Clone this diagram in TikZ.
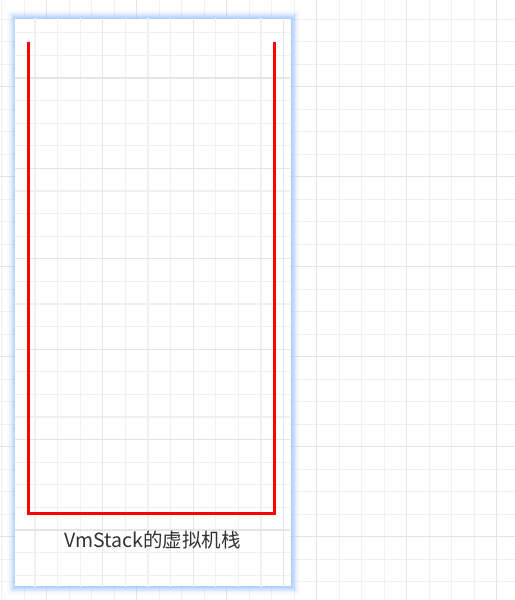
\documentclass[tikz,border=0pt]{standalone}
\usepackage{fontspec}
\newfontfamily\cjkfont{Noto Sans CJK SC}
\begin{document}
\begin{tikzpicture}[x=1bp,y=-1bp,
  gridminor/.style={draw=black!6,line width=1.3bp},
  gridmajor/.style={draw=black!10,line width=1.3bp},
  panelbox/.style={draw=none,fill=white,minimum width=275bp,minimum height=567bp,inner sep=0pt},
  redbracket/.style={draw=red,line width=3bp,line join=miter},
  caption/.style={font=\cjkfont\fontsize{19.5bp}{22bp}\selectfont,text=black!80,inner sep=0pt,anchor=base}]
\useasboundingbox (0,0) rectangle (515,600);
\fill[white] (0,0) rectangle (515,600);
% outer canvas grid
\foreach \k in {0,...,22} {\draw[gridminor] ({1.7+22.5*\k},0) -- ({1.7+22.5*\k},600);}
\foreach \k in {0,...,27} {\draw[gridminor] (0,{-3.3+22.5*\k}) -- (515,{-3.3+22.5*\k});}
\foreach \k in {0,...,5} {\draw[gridmajor] ({46.7+90*\k},0) -- ({46.7+90*\k},600);}
\foreach \k in {0,...,6} {\draw[gridmajor] (0,{-3.3+90*\k}) -- (515,{-3.3+90*\k});}
% glow
\foreach \i/\o in {1/0.7,2/0.6,3/0.5,4/0.4,5/0.3,6/0.2,7/0.12,8/0.06,9/0.03} {
  \draw[draw={rgb,255:red,140;green,185;blue,255},opacity=\o,line width=1bp]
    ({15.5-\i+0.5},{19-\i+0.5}) rectangle ({290+\i+0.2},{586+\i-0.2});
}
% panel
\node[panelbox] (panel) at (152.5,302.5) {};
\begin{scope}
\clip (15,19) rectangle (290,586);
\foreach \k in {0,...,13} {\draw[gridminor] ({12.4+22.6*\k},0) -- ({12.4+22.6*\k},600);}
\foreach \k in {0,...,26} {\draw[gridminor] (0,{10.2+22.6*\k}) -- (515,{10.2+22.6*\k});}
\foreach \k in {0,...,3} {\draw[gridmajor] ({12.4+90.4*\k},0) -- ({12.4+90.4*\k},600);}
\foreach \k in {-1,...,6} {\draw[gridmajor] (0,{78+90.4*\k}) -- (515,{78+90.4*\k});}
\end{scope}
% red bracket
\coordinate (tl) at (28.5,42);
\coordinate (bl) at (28.5,513.7);
\coordinate (br) at (274.5,513.7);
\coordinate (tr) at (274.5,42);
\draw[redbracket] (tl) -- (bl) -- (br) -- (tr);
% caption
\node[caption] (label) at (152.5,547) {VmStack的虚拟机栈};
\end{tikzpicture}
\end{document}
